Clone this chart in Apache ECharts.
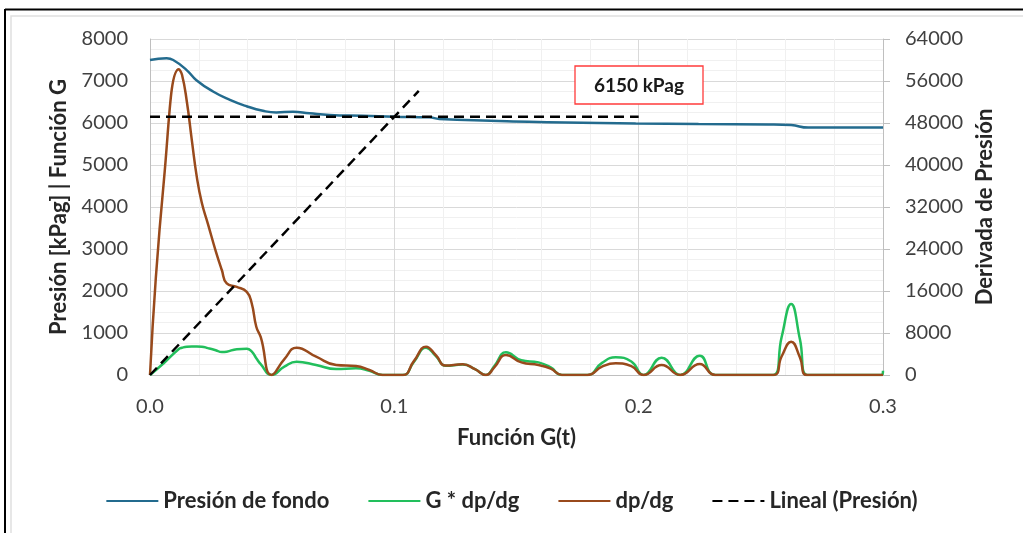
<!DOCTYPE html>
<html>
<head>
<meta charset="utf-8">
<script src="https://cdn.jsdelivr.net/npm/echarts@6/dist/echarts.min.js"></script>
<style>
  html, body { margin: 0; padding: 0; background: #fff; }
  #chart { width: 1023px; height: 533px; }
</style>
</head>
<body>
<div id="chart"></div>
<script>
// Presión de fondo (kPag) contra G
var presionG = [0, 0.0068, 0.0095, 0.015, 0.019, 0.0258, 0.0327, 0.0395, 0.0462, 0.0517, 0.0585, 0.0653, 0.0735, 0.087, 0.1, 0.1143, 0.1184, 0.155, 0.1988, 0.2245, 0.253, 0.2624, 0.2694, 0.3];
var presionVal = [7500, 7540, 7500, 7260, 7020, 6750, 6550, 6400, 6290, 6250, 6270, 6230, 6190, 6170, 6150, 6135, 6095, 6030, 5990, 5975, 5965, 5950, 5890, 5890];

// derivadas (eje derecho)
var derivG = [0, 0.0057, 0.0118, 0.0131, 0.0151, 0.0171, 0.0192, 0.0212, 0.0237, 0.0269, 0.0294, 0.0314, 0.0355, 0.0396, 0.0416, 0.0435, 0.0453, 0.0498, 0.055, 0.06, 0.068, 0.0762, 0.0843, 0.0898, 0.0952, 0.1035, 0.108, 0.113, 0.117, 0.121, 0.128, 0.133, 0.1375, 0.141, 0.1457, 0.152, 0.159, 0.164, 0.1686, 0.179, 0.185, 0.1906, 0.197, 0.202, 0.2094, 0.217, 0.225, 0.2314, 0.255, 0.2585, 0.2624, 0.266, 0.269, 0.2995, 0.3];
var dpdg = [0, 37120, 58240, 57200, 52000, 44800, 37600, 32800, 28800, 23600, 20000, 17440, 16800, 15840, 13710, 9200, 7240, 0, 3040, 5200, 3490, 1900, 1710, 950, 0, 0, 2640, 5400, 3760, 1800, 2040, 1120, 0, 1520, 3810, 2400, 1900, 1200, 0, 0, 1600, 2220, 1680, 0, 1900, 0, 2100, 0, 0, 3520, 6340, 3360, 0, 0, 0];
var gdpdg = [0, 2280, 4960, 5200, 5400, 5440, 5440, 5400, 5120, 4720, 4360, 4440, 4920, 5000, 4480, 3200, 2080, 0, 1600, 2540, 1900, 1120, 1280, 800, 0, 0, 2480, 5200, 3600, 1760, 2000, 1120, 0, 1760, 4320, 2800, 2400, 1440, 0, 0, 2320, 3360, 2560, 0, 3300, 0, 3680, 0, 0, 7200, 13520, 6800, 0, 0, 800];

// tendencia lineal y referencia 6150
var linealG = [0, 0.11];
var linealVal = [0, 6765];
var refG = [0, 0.2];
var refVal = [6150, 6150];

function pares(xs, ys) {
  return xs.map(function (x, i) { return [x, ys[i]]; });
}

var fuente = 'Lato';
var negro = '#262626';
var myChart = echarts.init(document.getElementById('chart'));

var option = {
  animation: false,
  textStyle: { fontFamily: fuente },
  grid: { left: 150, right: 140, top: 39, bottom: 158 },
  legend: {
    data: ['Presión de fondo', 'G * dp/dg', 'dp/dg', 'Lineal (Presión)'],
    bottom: 16,
    left: 'center',
    itemWidth: 52,
    itemHeight: 12,
    itemGap: 38,
    itemStyle: { opacity: 0 },
    textStyle: { fontFamily: fuente, fontSize: 22, fontWeight: 'bold', color: negro }
  },
  xAxis: {
    type: 'value',
    min: 0, max: 0.3, interval: 0.1,
    name: 'Función G(t)',
    nameLocation: 'middle',
    nameGap: 52,
    nameTextStyle: { fontFamily: fuente, fontSize: 22, fontWeight: 'bold', color: negro },
    axisLine: { show: true, lineStyle: { color: '#bfbfbf', width: 1 } },
    axisTick: { show: false },
    axisLabel: { margin: 22, fontSize: 20, color: '#404040', formatter: function (v) { return v.toFixed(1); } },
    splitLine: { show: true, lineStyle: { color: '#d9d9d9' } },
    minorTick: { show: false, splitNumber: 5 },
    minorSplitLine: { show: true, lineStyle: { color: '#f0f0f0' } }
  },
  yAxis: [
    {
      type: 'value',
      min: 0, max: 8000, interval: 1000,
      name: 'Presión [kPag] | Función G',
      nameLocation: 'middle',
      nameGap: 80,
      nameTextStyle: { fontFamily: fuente, fontSize: 22, fontWeight: 'bold', color: negro },
      axisLine: { show: true, lineStyle: { color: '#bfbfbf' } },
      axisTick: { show: false },
      axisLabel: { margin: 22, fontSize: 20, color: '#404040', formatter: function (v) { return String(v); } },
      splitLine: { show: true, lineStyle: { color: '#d9d9d9' } },
      minorTick: { show: false, splitNumber: 4 },
      minorSplitLine: { show: true, lineStyle: { color: '#f0f0f0' } }
    },
    {
      type: 'value',
      position: 'right',
      min: 0, max: 64000, interval: 8000,
      name: 'Derivada de Presión',
      nameLocation: 'middle',
      nameGap: 91,
      nameTextStyle: { fontFamily: fuente, fontSize: 22, fontWeight: 'bold', color: negro },
      axisLine: { show: true, lineStyle: { color: '#bfbfbf' } },
      axisTick: { show: true, length: 7, lineStyle: { color: '#bfbfbf' } },
      axisLabel: { margin: 22, fontSize: 20, color: '#404040', formatter: function (v) { return String(v); } },
      splitLine: { show: false }
    }
  ],
  series: [
    {
      name: 'Presión de fondo', type: 'line', yAxisIndex: 0,
      data: pares(presionG, presionVal),
      smooth: true, symbol: 'none',
      lineStyle: { color: '#236b8e', width: 2.5 }, itemStyle: { color: '#236b8e' }
    },
    {
      name: 'G * dp/dg', type: 'line', yAxisIndex: 1,
      data: pares(derivG, gdpdg),
      smooth: true, symbol: 'none',
      lineStyle: { color: '#22bf5c', width: 2.5 }, itemStyle: { color: '#22bf5c' }
    },
    {
      name: 'dp/dg', type: 'line', yAxisIndex: 1,
      data: pares(derivG, dpdg),
      smooth: true, symbol: 'none',
      lineStyle: { color: '#994a1c', width: 2.5 }, itemStyle: { color: '#994a1c' }
    },
    {
      name: 'Lineal (Presión)', type: 'line', yAxisIndex: 0,
      data: pares(linealG, linealVal),
      symbol: 'none',
      lineStyle: { color: '#000', width: 2.5, type: [10, 6] }, itemStyle: { color: '#000' }
    },
    {
      name: '6150 kPag', type: 'line', yAxisIndex: 0,
      data: pares(refG, refVal),
      symbol: 'none',
      lineStyle: { color: '#000', width: 2.5, type: [10, 6] }, itemStyle: { color: '#000' }
    }
  ],
  graphic: [
    { type: 'rect', shape: { x: 11, y: 16, width: 1030, height: 540 }, style: { fill: 'none', stroke: '#e0e0e0', lineWidth: 1.5 }, silent: true },
    { type: 'line', shape: { x1: 5, y1: 9.5, x2: 1023, y2: 9.5 }, style: { stroke: '#000', lineWidth: 2 }, silent: true },
    { type: 'line', shape: { x1: 5, y1: 9, x2: 5, y2: 533 }, style: { stroke: '#000', lineWidth: 2 }, silent: true },
    { type: 'rect', z: 10, shape: { x: 575, y: 66, width: 128, height: 38 }, style: { fill: '#fff', stroke: '#ff3b3b', lineWidth: 1.3 } },
    { type: 'text', z: 11, x: 639, y: 86, style: { text: '6150 kPag', fontFamily: fuente, fontSize: 19, fontWeight: 'bold', fill: '#1a1a1a', align: 'center', verticalAlign: 'middle' } }
  ]
};

myChart.setOption(option);
</script>
</body>
</html>
